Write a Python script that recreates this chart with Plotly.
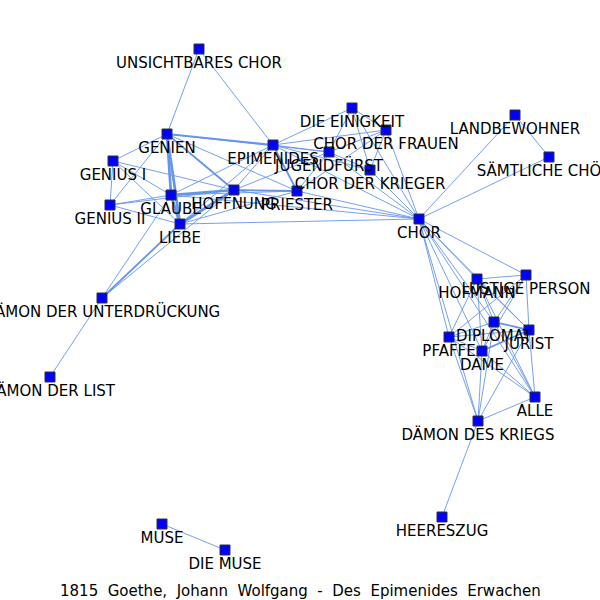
import plotly.graph_objects as go

# Figuren und Positionen (Layout)
names = ["UNSICHTBARES CHOR", "DIE EINIGKEIT", "CHOR DER FRAUEN", "LANDBEWOHNER",
         "SÄMTLICHE CHÖRE", "GENIEN", "EPIMENIDES", "JUGENDFÜRST", "CHOR DER KRIEGER",
         "GENIUS I", "HOFFNUNG", "PRIESTER", "GLAUBE", "GENIUS II", "LIEBE", "CHOR",
         "HOFMANN", "LUSTIGE PERSON", "DÄMON DER UNTERDRÜCKUNG", "DIPLOMAT", "JURIST",
         "PFAFFE", "DAME", "ALLE", "DÄMON DES KRIEGS", "DÄMON DER LIST", "HEERESZUG",
         "MUSE", "DIE MUSE"]
pos_x = [199, 352, 386, 515, 549, 167, 273, 329, 370, 113, 234, 297, 171, 110, 180, 419,
         477, 526, 102, 494, 529, 449, 482, 535, 478, 50, 442, 162, 225]
pos_y = [49, 108, 130, 115, 157, 134, 145, 152, 170, 161, 190, 191, 195, 205, 224, 219,
         279, 275, 298, 322, 330, 337, 351, 397, 421, 377, 517, 524, 550]

# Kanten: (von, nach, Gewicht)
edges = [
    ("UNSICHTBARES CHOR", "GENIEN", 1), ("UNSICHTBARES CHOR", "EPIMENIDES", 1),
    ("GENIEN", "EPIMENIDES", 2), ("GENIEN", "GLAUBE", 3), ("GENIEN", "LIEBE", 3),
    ("GENIEN", "HOFFNUNG", 2), ("GENIEN", "GENIUS I", 1), ("GENIEN", "GENIUS II", 1),
    ("GENIEN", "PRIESTER", 1), ("GENIEN", "JUGENDFÜRST", 1),
    ("GENIUS I", "GENIUS II", 1), ("GENIUS I", "GLAUBE", 1), ("GENIUS I", "LIEBE", 1),
    ("GENIUS I", "HOFFNUNG", 1),
    ("GENIUS II", "GLAUBE", 1), ("GENIUS II", "LIEBE", 1), ("GENIUS II", "HOFFNUNG", 1),
    ("GLAUBE", "LIEBE", 3), ("GLAUBE", "HOFFNUNG", 3), ("GLAUBE", "EPIMENIDES", 1),
    ("GLAUBE", "PRIESTER", 1), ("GLAUBE", "CHOR", 1), ("GLAUBE", "DÄMON DER UNTERDRÜCKUNG", 1),
    ("LIEBE", "HOFFNUNG", 3), ("LIEBE", "EPIMENIDES", 1), ("LIEBE", "PRIESTER", 1),
    ("LIEBE", "CHOR", 1), ("LIEBE", "DÄMON DER UNTERDRÜCKUNG", 2),
    ("HOFFNUNG", "DÄMON DER UNTERDRÜCKUNG", 1), ("DÄMON DER UNTERDRÜCKUNG", "DÄMON DER LIST", 1),
    ("HOFFNUNG", "EPIMENIDES", 1), ("HOFFNUNG", "PRIESTER", 2), ("HOFFNUNG", "JUGENDFÜRST", 1),
    ("HOFFNUNG", "CHOR", 1),
    ("EPIMENIDES", "PRIESTER", 2), ("EPIMENIDES", "JUGENDFÜRST", 1),
    ("EPIMENIDES", "CHOR DER KRIEGER", 1), ("EPIMENIDES", "DIE EINIGKEIT", 1),
    ("EPIMENIDES", "CHOR DER FRAUEN", 1), ("EPIMENIDES", "CHOR", 1),
    ("PRIESTER", "JUGENDFÜRST", 1), ("PRIESTER", "CHOR", 1), ("PRIESTER", "CHOR DER FRAUEN", 1),
    ("JUGENDFÜRST", "DIE EINIGKEIT", 1), ("JUGENDFÜRST", "CHOR DER FRAUEN", 1),
    ("JUGENDFÜRST", "CHOR DER KRIEGER", 1), ("JUGENDFÜRST", "CHOR", 1),
    ("DIE EINIGKEIT", "CHOR DER FRAUEN", 1), ("DIE EINIGKEIT", "CHOR DER KRIEGER", 1),
    ("DIE EINIGKEIT", "CHOR", 1),
    ("CHOR DER FRAUEN", "CHOR DER KRIEGER", 1), ("CHOR DER FRAUEN", "CHOR", 1),
    ("CHOR DER KRIEGER", "CHOR", 1),
    ("CHOR", "LANDBEWOHNER", 1), ("CHOR", "SÄMTLICHE CHÖRE", 1),
    ("LANDBEWOHNER", "SÄMTLICHE CHÖRE", 1),
    ("CHOR", "HOFMANN", 1), ("CHOR", "LUSTIGE PERSON", 1), ("CHOR", "DIPLOMAT", 1),
    ("CHOR", "JURIST", 1), ("CHOR", "PFAFFE", 1), ("CHOR", "DAME", 1),
    ("CHOR", "DÄMON DES KRIEGS", 1), ("CHOR", "ALLE", 1),
    ("HOFMANN", "LUSTIGE PERSON", 1), ("HOFMANN", "DIPLOMAT", 1), ("HOFMANN", "JURIST", 1),
    ("HOFMANN", "PFAFFE", 1), ("HOFMANN", "DAME", 1), ("HOFMANN", "ALLE", 1),
    ("LUSTIGE PERSON", "DIPLOMAT", 1), ("LUSTIGE PERSON", "JURIST", 1),
    ("LUSTIGE PERSON", "PFAFFE", 1), ("LUSTIGE PERSON", "DAME", 1),
    ("DIPLOMAT", "JURIST", 2), ("DIPLOMAT", "PFAFFE", 1), ("DIPLOMAT", "DAME", 1),
    ("DIPLOMAT", "ALLE", 1), ("DIPLOMAT", "DÄMON DES KRIEGS", 1),
    ("JURIST", "PFAFFE", 1), ("JURIST", "DAME", 2), ("JURIST", "ALLE", 1),
    ("JURIST", "DÄMON DES KRIEGS", 1),
    ("PFAFFE", "DAME", 1), ("PFAFFE", "ALLE", 1), ("PFAFFE", "DÄMON DES KRIEGS", 1),
    ("DAME", "ALLE", 1), ("DAME", "DÄMON DES KRIEGS", 1),
    ("ALLE", "DÄMON DES KRIEGS", 1),
    ("DÄMON DES KRIEGS", "HEERESZUG", 1),
    ("MUSE", "DIE MUSE", 1),
]

idx = {n: i for i, n in enumerate(names)}

fig = go.Figure()

# Kanten nach Gewicht gruppieren
for w in sorted(set(e[2] for e in edges)):
    ex, ey = [], []
    for a, b, ww in edges:
        if ww != w:
            continue
        ex += [pos_x[idx[a]], pos_x[idx[b]], None]
        ey += [pos_y[idx[a]], pos_y[idx[b]], None]
    fig.add_trace(go.Scatter(x=ex, y=ey, mode="lines",
                             line=dict(color="#6495ed", width=0.9 * w),
                             hoverinfo="skip", showlegend=False))

# Knoten
fig.add_trace(go.Scatter(
    x=pos_x, y=pos_y, mode="markers+text",
    marker=dict(symbol="square", size=10, color="#0000ff",
                line=dict(color="#333333", width=1)),
    text=names, textposition="bottom center",
    textfont=dict(family="DejaVu Sans", size=15, color="black"),
    hoverinfo="text", showlegend=False,
))

fig.update_layout(
    width=600, height=600,
    margin=dict(l=0, r=0, t=0, b=0),
    plot_bgcolor="white", paper_bgcolor="white",
    xaxis=dict(range=[0, 600], visible=False, fixedrange=True),
    yaxis=dict(range=[600, 0], visible=False, fixedrange=True),
    annotations=[dict(
        text="1815  Goethe,  Johann  Wolfgang  -  Des  Epimenides  Erwachen",
        x=300, y=591, xref="x", yref="y", showarrow=False,
        font=dict(family="DejaVu Sans", size=15, color="black"),
    )],
)

# Seitenrand des Browsers entfernen, damit das Bild bei (0, 0) beginnt
fig.write_html("out.html", config={"displayModeBar": False},
               post_script="document.body.style.margin='0';")
